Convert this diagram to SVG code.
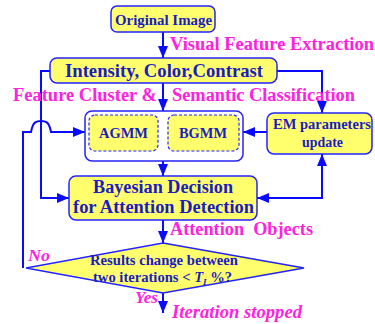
<svg xmlns="http://www.w3.org/2000/svg" width="375" height="324" viewBox="0 0 375 324">
<defs>
<style>
.box{fill:#ffff6e;stroke:#2323ff;stroke-width:1.5}
.dash{fill:#ffff6e;stroke:#2323ff;stroke-width:1.2;stroke-dasharray:3 2}
.cont{fill:#fff;stroke:#2323ff;stroke-width:1.5}
.t{font-family:"Liberation Serif",serif;font-weight:bold;fill:#1c1cc0}
.m{font-family:"Liberation Serif",serif;font-weight:bold;fill:#ff22dd}
.mi{font-family:"Liberation Serif",serif;font-weight:bold;font-style:italic;fill:#ff22dd}
.ln{fill:none;stroke:#0a0aff;stroke-width:2}
</style>
<marker id="a" viewBox="0 0 12 10" refX="12" refY="5" markerWidth="12" markerHeight="10" orient="auto-start-reverse" markerUnits="userSpaceOnUse">
<path d="M0,0 L12,5 L0,10 z" fill="#0a0aff"/>
</marker>
</defs>
<g id="connectors">
<path class="ln" d="M163,32 V58" marker-end="url(#a)"/>
<path class="ln" d="M163,83 V111" marker-end="url(#a)"/>
<path class="ln" d="M50,71 H41 V198 H69" marker-end="url(#a)"/>
<path class="ln" d="M277,71 H322 V113" marker-end="url(#a)"/>
<path class="ln" d="M267,132 H243" marker-end="url(#a)"/>
<path class="ln" d="M23,268 V132 H31 C33,121 37,121 41,121 C45,121 49,121 51,132 H85" marker-end="url(#a)"/>
<path class="ln" d="M163,161 V176" marker-end="url(#a)"/>
<path class="ln" d="M257,198 H322 V154" marker-start="url(#a)" marker-end="url(#a)"/>
<path class="ln" d="M163,220 V243" marker-end="url(#a)"/>
<path class="ln" d="M163,293 V313" marker-end="url(#a)"/>
</g>
<g id="original">
<rect class="box" x="111" y="6" width="104" height="26" rx="6"/>
<text class="t" x="115" y="25" font-size="15" textLength="97" lengthAdjust="spacingAndGlyphs">Original Image</text>
</g>
<g id="features">
<rect class="box" x="50" y="58" width="227" height="25" rx="7"/>
<text class="t" x="65" y="77" font-size="18.8" textLength="198" lengthAdjust="spacingAndGlyphs">Intensity, Color,Contrast</text>
</g>
<g id="gmm">
<rect class="cont" x="85" y="111" width="158" height="50" rx="7"/>
<rect class="dash" x="89" y="115" width="69" height="36" rx="6"/>
<text class="t" x="99" y="138" font-size="15" textLength="49" lengthAdjust="spacingAndGlyphs">AGMM</text>
<rect class="dash" x="168" y="115" width="71" height="36" rx="6"/>
<text class="t" x="179" y="138" font-size="15" textLength="48" lengthAdjust="spacingAndGlyphs">BGMM</text>
</g>
<g id="em">
<rect class="box" x="267" y="113" width="105" height="41" rx="7"/>
<text class="t" x="273" y="129" font-size="15" textLength="98" lengthAdjust="spacingAndGlyphs">EM parameters</text>
<text class="t" x="302" y="147" font-size="15" textLength="41" lengthAdjust="spacingAndGlyphs">update</text>
</g>
<g id="bayes">
<rect class="box" x="69" y="176" width="188" height="44" rx="7"/>
<text class="t" x="93" y="193" font-size="18.5" textLength="140" lengthAdjust="spacingAndGlyphs">Bayesian Decision</text>
<text class="t" x="73" y="213" font-size="18.5" textLength="181" lengthAdjust="spacingAndGlyphs">for Attention Detection</text>
</g>
<g id="decision">
<path class="box" d="M163,243 L304,268 L163,293 L26,268 Z"/>
<text class="t" x="90" y="265" font-size="14" textLength="148" lengthAdjust="spacingAndGlyphs">Results change between</text>
<text class="t" x="93" y="282" font-size="14.6">two iterations &lt; <tspan font-style="italic">T</tspan><tspan font-style="italic" font-size="9" dy="3">I</tspan><tspan dy="-3"> %?</tspan></text>
</g>
<g id="labels">
<text class="m" x="170" y="50" font-size="18.5" textLength="204" lengthAdjust="spacingAndGlyphs">Visual Feature Extraction</text>
<text class="m" x="13" y="101" font-size="18.5" textLength="144" lengthAdjust="spacingAndGlyphs">Feature Cluster &amp;</text>
<text class="m" x="172" y="101" font-size="18.5" textLength="183" lengthAdjust="spacingAndGlyphs">Semantic Classification</text>
<text class="m" x="170" y="235" font-size="18.5" textLength="143" lengthAdjust="spacingAndGlyphs" xml:space="preserve">Attention  Objects</text>
<text class="mi" x="28" y="261" font-size="16" textLength="22" lengthAdjust="spacingAndGlyphs">No</text>
<text class="mi" x="135" y="303" font-size="16" textLength="23" lengthAdjust="spacingAndGlyphs">Yes</text>
<text class="mi" x="172" y="318" font-size="18.5" textLength="130" lengthAdjust="spacingAndGlyphs">Iteration stopped</text>
</g>
</svg>
